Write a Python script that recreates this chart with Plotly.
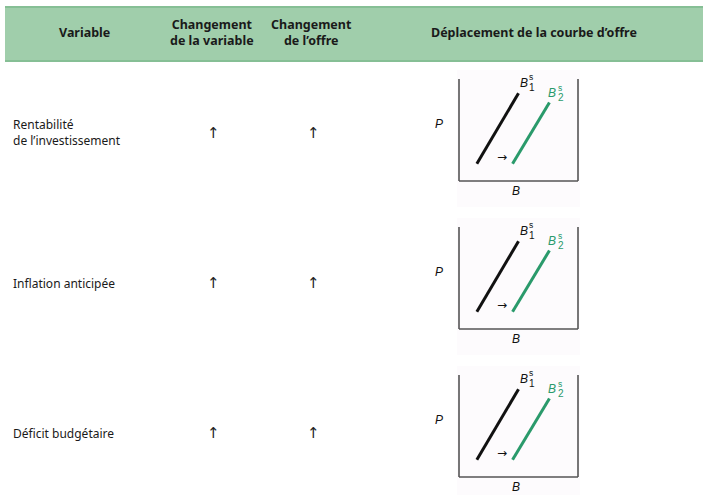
import plotly.graph_objects as go

# ---- data ----
headers = ["Variable", "Changement<br>de la variable", "Changement<br>de l’offre", "Déplacement de la courbe d’offre"]
variables = ["Rentabilité<br>de l’investissement", "Inflation anticipée", "Déficit budgétaire"]
change_variable = ["↑", "↑", "↑"]
change_supply = ["↑", "↑", "↑"]
b1_x = [1.5, 5.0]
b1_y = [1.7, 8.6]
b2_x = [4.5, 7.6]
b2_y = [1.7, 7.7]
curve_names = [("B", "s", "1"), ("B", "s", "2")]

W, H = 703, 495
GREEN = "#2a9a6b"
HEAD_FILL = "#a0ceab"
HEAD_LINE = "#86bf95"
FONT = "Noto Sans, sans-serif"
BODY_FONT = "Noto Sans, sans-serif"
LAB_FONT = "Liberation Sans, Arial, sans-serif"

def px(x):
    return x / W

def py(y):
    return 1 - y / H

fig = go.Figure()
shapes = []
annotations = []

def ann(**kw):
    kw.setdefault("showarrow", False)
    kw.setdefault("xanchor", "center")
    kw.setdefault("yanchor", "middle")
    annotations.append(kw)

# header band
shapes.append(dict(type="rect", xref="paper", yref="paper", x0=px(5), x1=1, y0=py(61), y1=py(7),
                   fillcolor=HEAD_FILL, line=dict(width=0), layer="below"))
shapes.append(dict(type="line", xref="paper", yref="paper", x0=px(5), x1=1, y0=py(7), y1=py(7),
                   line=dict(color=HEAD_LINE, width=2)))
shapes.append(dict(type="line", xref="paper", yref="paper", x0=px(5), x1=1, y0=py(61), y1=py(61),
                   line=dict(color=HEAD_LINE, width=2)))

head_x = [84, 212, 311, 534]
for hx, ht in zip(head_x, headers):
    ann(xref="paper", yref="paper", x=px(hx), y=py(33), text="<b>" + ht + "</b>",
        font=dict(family=FONT, size=12.5, color="#1a1a1a"), align="center")

left_px, right_px = 459, 578
for k in range(3):
    top = 79 + 148 * k
    bot = 181 + 148 * k
    row_y = 133 + 150 * k
    sfx = "" if k == 0 else str(k + 1)
    xa = "x" + sfx
    ya = "y" + sfx
    # faint background
    shapes.append(dict(type="rect", xref="paper", yref="paper", x0=px(457), x1=px(580),
                       y0=py(bot + 26), y1=py(top - 9), fillcolor="#fdfbfd", line=dict(width=0), layer="below"))
    fig.add_trace(go.Scatter(x=b1_x, y=b1_y, mode="lines", line=dict(color="#111", width=3),
                             xaxis=xa, yaxis=ya, showlegend=False, hoverinfo="skip"))
    fig.add_trace(go.Scatter(x=b2_x, y=b2_y, mode="lines", line=dict(color=GREEN, width=3),
                             xaxis=xa, yaxis=ya, showlegend=False, hoverinfo="skip"))
    axkey_x = "xaxis" + sfx
    axkey_y = "yaxis" + sfx
    fig.update_layout(**{
        axkey_x: dict(domain=[px(left_px), px(right_px)], range=[0, 10], showgrid=False, zeroline=False,
                      showticklabels=False, ticks="", anchor=ya, fixedrange=True),
        axkey_y: dict(domain=[py(bot), py(top)], range=[0, 10], showgrid=False, zeroline=False,
                      showticklabels=False, ticks="", anchor=xa, fixedrange=True),
    })
    # box: left, bottom, right
    for (x0, y0, x1, y1) in [(0, 0, 0, 1), (0, 0, 1, 0), (1, 0, 1, 1)]:
        shapes.append(dict(type="line", xref=xa + " domain", yref=ya + " domain", x0=x0, y0=y0, x1=x1, y1=y1,
                           line=dict(color="#555", width=1.6)))
    # curve labels
    for (nm, ex, ey, col, dB, ds, dn) in [
        (curve_names[0], b1_x[1], b1_y[1], "#111", (5, 10.5), (12.5, 16), (13, 5.5)),
        (curve_names[1], b2_x[1], b2_y[1], GREEN, (3, 9.5), (11, 14), (11.5, 5)),
    ]:
        ann(xref=xa, yref=ya, x=ex, y=ey, text="<i>" + nm[0] + "</i>",
            xshift=dB[0], yshift=dB[1], font=dict(family=LAB_FONT, size=12, color=col))
        ann(xref=xa, yref=ya, x=ex, y=ey, text=nm[1],
            xshift=ds[0], yshift=ds[1], font=dict(family=LAB_FONT, size=8.5, color=col))
        ann(xref=xa, yref=ya, x=ex, y=ey, text=nm[2],
            xshift=dn[0], yshift=dn[1], font=dict(family=LAB_FONT, size=10, color=col))
    # shift arrow
    ann(xref=xa, yref=ya, x=(b1_x[0] + b2_x[0]) / 2, y=b1_y[0], text="→",
        xshift=7, yshift=7, font=dict(family="DejaVu Sans, sans-serif", size=12, color="#111"))
    # axis letters
    ann(xref=xa + " domain", yref=ya + " domain", x=0, y=0.56, text="<i>P</i>",
        xshift=-20, font=dict(family=LAB_FONT, size=12, color="#111"))
    ann(xref=xa + " domain", yref=ya + " domain", x=0.48, y=0, text="<i>B</i>",
        yshift=-10, font=dict(family=LAB_FONT, size=12, color="#111"))
    # table text
    ann(xref="paper", yref="paper", x=px(11), y=py(row_y), text=variables[k],
        xanchor="left", align="left", font=dict(family=BODY_FONT, size=12, color="#1a1a1a"))
    ann(xref="paper", yref="paper", x=px(213), y=py(row_y), text=change_variable[k],
        font=dict(family="DejaVu Sans, sans-serif", size=15, color="#222"))
    ann(xref="paper", yref="paper", x=px(313), y=py(row_y), text=change_supply[k],
        font=dict(family="DejaVu Sans, sans-serif", size=15, color="#222"))

fig.update_layout(width=W, height=H, margin=dict(l=0, r=0, t=0, b=0), paper_bgcolor="white",
                  plot_bgcolor="rgba(0,0,0,0)", shapes=shapes, annotations=annotations, showlegend=False)
fig.write_html("out.html", config={"displayModeBar": False},
               post_script="document.body.style.margin='0';document.body.style.padding='0';")
